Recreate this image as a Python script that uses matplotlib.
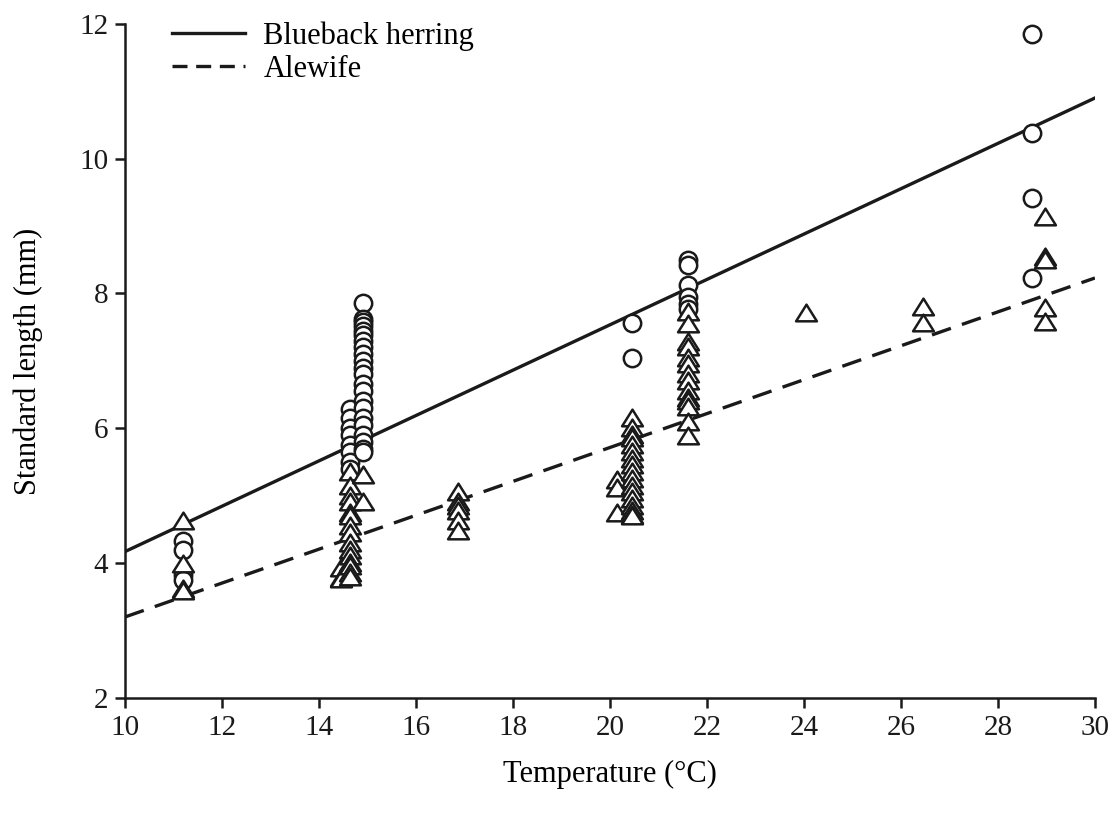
# standard length vs temperature for blueback herring and alewife larvae

import numpy as np
import matplotlib.pyplot as plt
from matplotlib.lines import Line2D
from matplotlib.path import Path

plt.rcParams['font.family'] = ['Liberation Serif', 'DejaVu Serif']

# blueback herring (circles): temperature, standard length
bb_temp = [11.2, 11.2, 11.2, 11.2,
           14.65, 14.65, 14.65, 14.65, 14.65, 14.65, 14.65, 14.65,
           14.9, 14.9, 14.9, 14.9, 14.9, 14.9, 14.9, 14.9, 14.9, 14.9, 14.9,
           14.9, 14.9, 14.9, 14.9, 14.9, 14.9, 14.9, 14.9, 14.9, 14.9, 14.9,
           20.45, 20.45,
           21.6, 21.6, 21.6, 21.6, 21.6, 21.6,
           28.7, 28.7, 28.7, 28.7]
bb_len = [4.33, 4.2, 3.82, 3.75,
          6.28, 6.15, 6.0, 5.9, 5.75, 5.65, 5.5, 5.4,
          7.86, 7.62, 7.58, 7.52, 7.45, 7.38, 7.3, 7.2, 7.1, 7.0, 6.9,
          6.8, 6.65, 6.55, 6.4, 6.3, 6.15, 6.05, 5.9, 5.8, 5.7, 5.65,
          7.56, 7.04,
          8.5, 8.42, 8.12, 7.95, 7.85, 7.77,
          11.85, 10.38, 9.42, 8.23]

# alewife (triangles): temperature, standard length
al_temp = [11.2, 11.2, 11.2, 11.2,
           14.45, 14.45, 14.45,
           14.65, 14.65, 14.65, 14.65, 14.65, 14.65, 14.65, 14.65, 14.65,
           14.65, 14.65, 14.65, 14.65, 14.65, 14.65,
           14.9, 14.9,
           16.87, 16.87, 16.87, 16.87, 16.87, 16.87,
           20.15, 20.15, 20.15,
           20.45, 20.45, 20.45, 20.45, 20.45, 20.45, 20.45, 20.45, 20.45,
           20.45, 20.45, 20.45, 20.45, 20.45, 20.45, 20.45, 20.45,
           21.6, 21.6, 21.6, 21.6, 21.6, 21.6, 21.6, 21.6, 21.6, 21.6,
           21.6, 21.6, 21.6, 21.6,
           24.05,
           26.45, 26.45,
           28.97, 28.97, 28.97, 28.97, 28.97]
al_len = [4.62, 3.98, 3.62, 3.58,
          3.92, 3.78, 3.76,
          5.35, 5.15, 5.0, 4.9, 4.75, 4.7, 4.55, 4.45, 4.3,
          4.2, 4.1, 4.0, 3.95, 3.85, 3.8,
          5.3, 4.9,
          5.05, 4.9, 4.85, 4.78, 4.62, 4.47,
          5.23, 5.12, 4.74,
          6.15, 6.0, 5.9, 5.85, 5.75, 5.65, 5.55, 5.45, 5.35,
          5.25, 5.15, 5.05, 4.95, 4.85, 4.78, 4.72, 4.7,
          7.72, 7.55, 7.28, 7.2, 7.05, 6.95, 6.8, 6.7, 6.55, 6.45,
          6.4, 6.32, 6.1, 5.88,
          7.71,
          7.8, 7.56,
          9.14, 8.54, 8.5, 7.79, 7.58]

# fitted lines (end points)
fit_temp = [10, 30]
bb_fit = [4.17, 10.9]
al_fit = [3.2, 8.23]

fig = plt.figure(figsize=(11.15, 8.23), dpi=100)
ax = fig.add_axes([0.112, 0.152, 0.870, 0.819])

# slightly flattened open triangle
tri = Path([(-1, -0.75), (1, -0.75), (0, 0.85), (-1, -0.75)],
           [Path.MOVETO, Path.LINETO, Path.LINETO, Path.CLOSEPOLY])

ax.plot(bb_temp, bb_len, 'o', ms=12.5, mfc='white', mec='#1a1a1a', mew=1.8,
        linestyle='none', zorder=3)
ax.plot(al_temp, al_len, marker=tri, ms=15, mfc='white', mec='#1a1a1a',
        mew=1.8, linestyle='none', zorder=3)

ax.plot(fit_temp, bb_fit, color='#1a1a1a', lw=2.4, zorder=2)
ax.plot(fit_temp, al_fit, color='#1a1a1a', lw=2.4, dashes=(6, 3.5), zorder=2)

handles = [Line2D([], [], color='#1a1a1a', lw=2.4),
           Line2D([], [], color='#1a1a1a', lw=2.4, dashes=(4.5, 2.6))]
ax.legend(handles, ['Blueback herring', 'Alewife'], loc='upper left',
          bbox_to_anchor=(0.02, 1.045), frameon=False, fontsize=22,
          handlelength=2.4, handletextpad=0.6, labelspacing=0.15)

ax.set_xlim(10, 30)
ax.set_ylim(2, 12)
ax.set_xticks(np.arange(10, 31, 2))
ax.set_yticks(np.arange(2, 13, 2))
ax.spines['top'].set_visible(False)
ax.spines['right'].set_visible(False)
for s in ['left', 'bottom']:
    ax.spines[s].set_linewidth(1.8)
    ax.spines[s].set_color('#1a1a1a')
ax.tick_params(direction='out', length=7, width=1.8, labelsize=21,
               colors='#1a1a1a', pad=5)

ax.set_xlabel('Temperature (°C)', fontsize=22, labelpad=14)
ax.set_ylabel('Standard length (mm)', fontsize=22, labelpad=26)

fig.savefig('out.png', dpi=100)
